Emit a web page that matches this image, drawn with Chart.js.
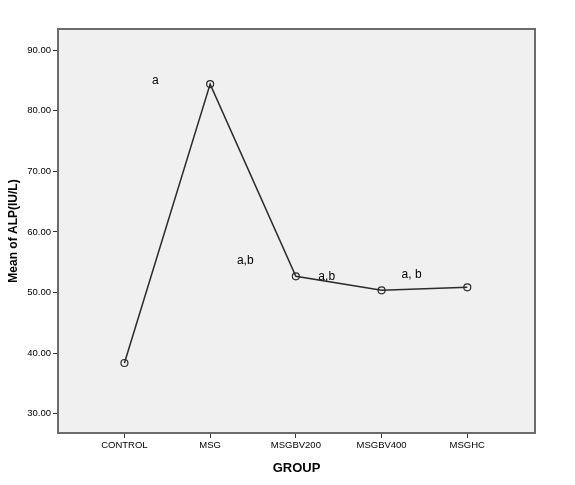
<!DOCTYPE html>
<html>
<head>
<meta charset="utf-8">
<script src="https://cdn.jsdelivr.net/npm/chart.js@4/dist/chart.umd.min.js"></script>
<style>
  html, body { margin: 0; padding: 0; background: #fff; }
  #wrap { width: 575px; height: 485px; }
</style>
</head>
<body>
<div id="wrap"><canvas id="alpChart" width="575" height="485"></canvas></div>
<script>
// data
const groups = ["CONTROL", "MSG", "MSGBV200", "MSGBV400", "MSGHC"];
const alpMeans = [38.36, 84.4, 52.67, 50.35, 50.85];
const yTicks = [30, 40, 50, 60, 70, 80, 90];

// significance letters (text, x in group units, y in IU/L)
const noteText = ["a", "a,b", "a,b", "a, b"];
const noteX = [0.36, 1.41, 2.36, 3.35];
const noteY = [84.9, 55.2, 52.6, 53.0];

const FONT = "'Liberation Sans', Arial, sans-serif";

// grey plot background + frame
const plotFrame = {
  id: "plotFrame",
  beforeDraw(chart) {
    const { ctx, chartArea: a } = chart;
    ctx.save();
    ctx.fillStyle = "#f0f0f0";
    ctx.fillRect(a.left, a.top, a.right - a.left, a.bottom - a.top);
    ctx.restore();
  },
  afterDraw(chart) {
    const { ctx, chartArea: a } = chart;
    ctx.save();
    ctx.strokeStyle = "#6b6b6b";
    ctx.lineWidth = 2;
    ctx.strokeRect(a.left, a.top, a.right - a.left, a.bottom - a.top);
    ctx.restore();
  }
};

// letters placed in data coordinates
const letters = {
  id: "letters",
  afterDatasetsDraw(chart) {
    const { ctx, scales } = chart;
    ctx.save();
    ctx.font = "12px " + FONT;
    ctx.fillStyle = "#000";
    ctx.textAlign = "center";
    ctx.textBaseline = "middle";
    noteText.forEach((t, i) => {
      ctx.fillText(t, scales.x.getPixelForValue(noteX[i]), scales.y.getPixelForValue(noteY[i]));
    });
    ctx.restore();
  }
};

new Chart(document.getElementById("alpChart"), {
  type: "line",
  data: {
    datasets: [{
      data: alpMeans.map((v, i) => ({ x: i, y: v })),
      borderColor: "#2b2b2b",
      borderWidth: 1.5,
      tension: 0,
      pointRadius: 3.5,
      pointBorderWidth: 1.2,
      pointBorderColor: "#2b2b2b",
      pointBackgroundColor: "rgba(0,0,0,0)",
      fill: false
    }]
  },
  options: {
    responsive: false,
    animation: false,
    layout: { padding: { top: 29, right: 40, left: 2, bottom: 0 } },
    plugins: { legend: { display: false }, tooltip: { enabled: false } },
    scales: {
      x: {
        type: "linear",
        min: -0.775,
        max: 4.79,
        afterBuildTicks: s => { s.ticks = groups.map((g, i) => ({ value: i })); },
        afterFit: s => { s.height = 52; },
        ticks: {
          callback: v => groups[v],
          font: { family: FONT, size: 9.5 },
          color: "#000",
          padding: 2,
          maxRotation: 0
        },
        grid: { drawOnChartArea: false, tickLength: 5, color: "#333", tickWidth: 1 },
        border: { display: false },
        title: {
          display: true,
          text: "GROUP",
          font: { family: FONT, size: 13, weight: "bold" },
          color: "#000",
          padding: { top: 4, bottom: 9 }
        }
      },
      y: {
        min: 26.8,
        max: 93.5,
        afterBuildTicks: s => { s.ticks = yTicks.map(v => ({ value: v })); },
        afterFit: s => { s.width = 56; },
        ticks: {
          callback: v => v.toFixed(2),
          font: { family: FONT, size: 9.5 },
          color: "#000",
          padding: 2
        },
        grid: { drawOnChartArea: false, tickLength: 5, color: "#333", tickWidth: 1 },
        border: { display: false },
        title: {
          display: true,
          text: "Mean of ALP(IU/L)",
          font: { family: FONT, size: 12, weight: "bold" },
          color: "#000",
          padding: { top: 4, bottom: 0 }
        }
      }
    }
  },
  plugins: [plotFrame, letters]
});
</script>
</body>
</html>
